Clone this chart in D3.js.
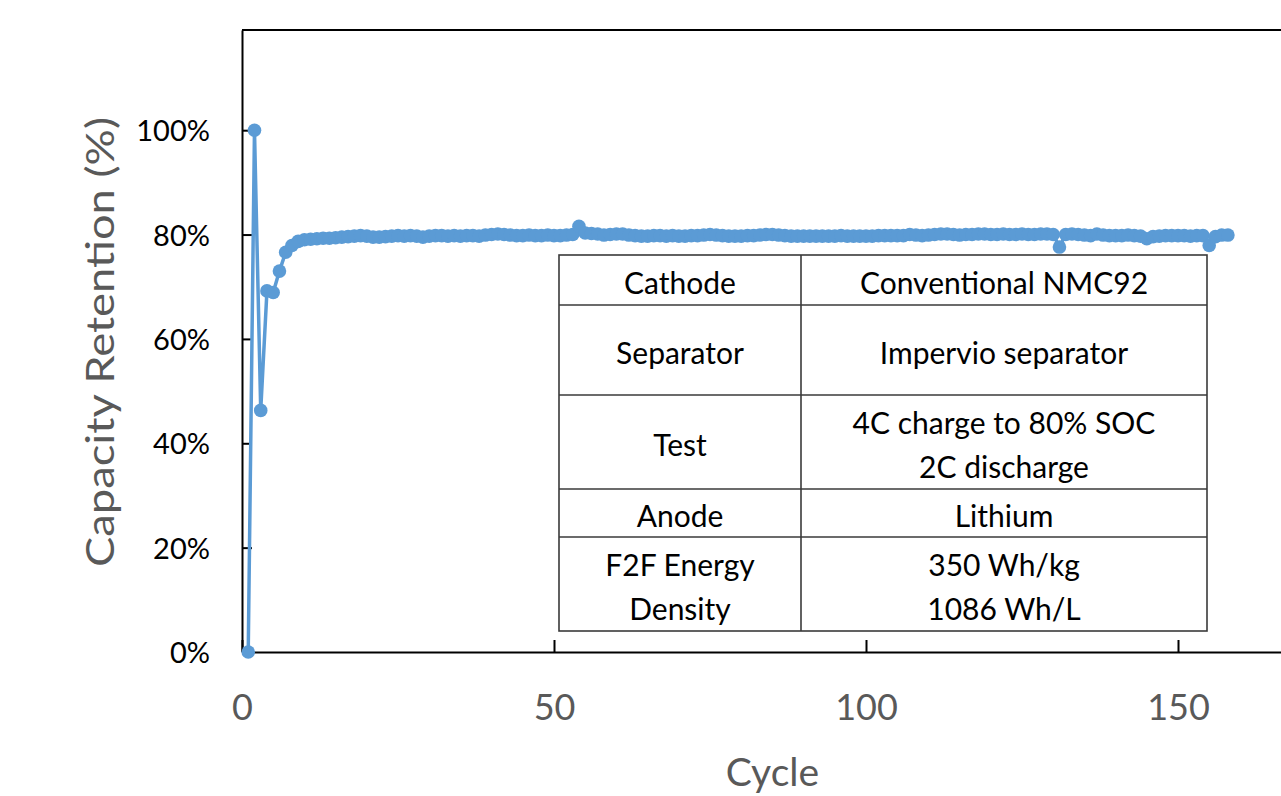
<!DOCTYPE html>
<meta charset="utf-8">
<style>
 body { margin: 0; background: #fff; font-family: Lato, 'Open Sans', sans-serif; }
 svg { display: block; }
</style>
<body>
<script src="https://cdn.jsdelivr.net/npm/d3@7"></script>
<script>

 // capacity retention (%) per cycle, cycle = index + 1
 var retention = [
     0, 100, 46.3, 69.2, 68.9, 73.0, 76.6, 77.9, 78.7, 79.0,
     79.1, 79.2, 79.3, 79.3, 79.4, 79.5, 79.6, 79.7, 79.8, 79.7,
     79.5, 79.5, 79.6, 79.7, 79.8, 79.7, 79.8, 79.7, 79.5, 79.7,
     79.8, 79.8, 79.7, 79.8, 79.7, 79.8, 79.8, 79.7, 79.9, 80.0,
     80.1, 80.0, 79.9, 79.8, 79.8, 79.9, 79.8, 79.8, 79.9, 79.8,
     79.8, 79.9, 80.0, 81.6, 80.3, 80.2, 80.1, 79.9, 80.0, 80.1,
     80.1, 79.9, 79.8, 79.7, 79.7, 79.8, 79.8, 79.7, 79.8, 79.7,
     79.7, 79.8, 79.8, 79.9, 80.0, 79.9, 79.8, 79.7, 79.7, 79.7,
     79.8, 79.8, 79.9, 80.0, 80.0, 79.9, 79.8, 79.7, 79.7, 79.7,
     79.7, 79.7, 79.7, 79.7, 79.7, 79.8, 79.7, 79.7, 79.7, 79.7,
     79.7, 79.8, 79.8, 79.8, 79.8, 79.8, 80.0, 79.9, 79.8, 79.9,
     80.0, 80.1, 80.1, 80.0, 79.9, 80.0, 80.0, 80.1, 80.1, 80.0,
     80.0, 80.1, 80.0, 80.0, 80.1, 80.0, 80.0, 80.1, 80.1, 80.0,
     77.6, 80.0, 80.1, 80.0, 79.9, 79.8, 80.1, 79.9, 79.8, 79.8,
     79.8, 79.9, 79.8, 79.7, 79.2, 79.6, 79.7, 79.8, 79.8, 79.8,
     79.8, 79.7, 79.8, 79.8, 77.9, 79.6, 79.9, 79.9
 ];

 var xTicks = [0, 50, 100, 150];
 var yTicks = [0, 20, 40, 60, 80, 100];

 // spec table
 var tableLeft = [["Cathode"], ["Separator"], ["Test"], ["Anode"], ["F2F Energy", "Density"]];
 var tableRight = [["Conventional NMC92"], ["Impervio separator"],
                   ["4C charge to 80% SOC", "2C discharge"], ["Lithium"],
                   ["350 Wh/kg", "1086 Wh/L"]];

 var data = retention.map(function(v, i) { return {x: i + 1, y: v}; });

 var W = 1281, H = 796;
 var margin = {top: 30, left: 242},
     width = 1092,
     height = 622;

 var blue = "#5b9bd5";
 var gray = "#595959";

 var xScale = d3.scaleLinear().domain([0, 175]).range([0, width]);
 var yScale = d3.scaleLinear().domain([0, 119.2]).range([height, 0]);

 var svg = d3.select("body").append("svg")
             .attr("width", W)
             .attr("height", H);

 var g = svg.append("g")
            .attr("transform", "translate(" + margin.left + "," + margin.top + ")");

 // plot frame (top border)
 g.append("line")
  .attr("x1", 0).attr("x2", width)
  .attr("y1", 0).attr("y2", 0)
  .attr("stroke", "#000").attr("stroke-width", 2);

 // Add the x-axis (ticks point inward)
 var gX = g.append("g")
           .attr("transform", "translate(0," + height + ")")
           .call(d3.axisBottom(xScale).tickValues(xTicks).tickSizeInner(-12).tickSizeOuter(0).tickPadding(42));
 gX.select(".domain").attr("stroke-width", 2);
 gX.selectAll(".tick line").attr("stroke-width", 2);
 gX.selectAll("text")
   .attr("font-family", "Lato, sans-serif")
   .attr("font-size", "36px")
   .attr("fill", gray);

 // Add the y-axis
 var gY = g.append("g")
           .call(d3.axisLeft(yScale).tickValues(yTicks).tickSizeInner(-10).tickSizeOuter(0)
                   .tickPadding(32).tickFormat(function(d) { return d + "%"; }));
 gY.select(".domain").attr("stroke-width", 2);
 gY.selectAll(".tick line").attr("stroke-width", 2);
 gY.selectAll("text")
   .attr("font-family", "Lato, sans-serif")
   .attr("font-size", "29px")
   .attr("dy", "0.36em")
   .attr("fill", "#000");

 // Y axis label
 g.append("text")
  .attr("transform", "rotate(-90)")
  .attr("x", -(342 - margin.top))
  .attr("y", 114 - margin.left)
  .attr("text-anchor", "middle")
  .attr("font-size", "38px")
  .attr("textLength", 450)
  .attr("lengthAdjust", "spacingAndGlyphs")
  .attr("fill", gray)
  .text("Capacity Retention (%)");

 // X axis label
 g.append("text")
  .attr("x", xScale(85))
  .attr("y", 786 - margin.top)
  .attr("text-anchor", "middle")
  .attr("font-size", "39px")
  .attr("fill", gray)
  .text("Cycle");

 // the series
 g.append("path")
  .datum(data)
  .attr("fill", "none")
  .attr("stroke", blue)
  .attr("stroke-width", 3.5)
  .attr("stroke-linejoin", "round")
  .attr("d", d3.line()
               .x(function(d) { return xScale(d.x); })
               .y(function(d) { return yScale(d.y); }));

 g.selectAll("circle")
  .data(data)
  .enter()
  .append("circle")
  .attr("cx", function(d) { return xScale(d.x); })
  .attr("cy", function(d) { return yScale(d.y); })
  .attr("r", 6.8)
  .attr("fill", blue);

 // table
 var tx0 = 559, tx1 = 801, tx2 = 1207;
 var rowH = [50, 90, 94, 48, 94];
 var tTop = 255;
 var lineGap = 44;
 var tab = svg.append("g");
 var tops = [];
 var acc = tTop;
 rowH.forEach(function(h) { tops.push(acc); acc += h; });

 tab.append("rect")
    .attr("x", tx0).attr("y", tTop)
    .attr("width", tx2 - tx0).attr("height", acc - tTop)
    .attr("fill", "#fff")
    .attr("stroke", "#3a3a3a").attr("stroke-width", 1.6);
 tab.append("line")
    .attr("x1", tx1).attr("x2", tx1).attr("y1", tTop).attr("y2", acc)
    .attr("stroke", "#3a3a3a").attr("stroke-width", 1.6);
 tops.slice(1).forEach(function(t) {
     tab.append("line")
        .attr("x1", tx0).attr("x2", tx2).attr("y1", t).attr("y2", t)
        .attr("stroke", "#3a3a3a").attr("stroke-width", 1.6);
 });

 function cell(lines, cx, top, h) {
     var mid = top + h / 2 + 3;
     lines.forEach(function(s, k) {
         tab.append("text")
            .attr("x", cx)
            .attr("y", mid + (k - (lines.length - 1) / 2) * lineGap)
            .attr("dy", "0.35em")
            .attr("text-anchor", "middle")
            .attr("font-size", "30px")
            .attr("fill", "#000")
            .text(s);
     });
 }
 tableLeft.forEach(function(l, i) { cell(l, (tx0 + tx1) / 2, tops[i], rowH[i]); });
 tableRight.forEach(function(l, i) { cell(l, (tx1 + tx2) / 2, tops[i], rowH[i]); });

</script>
